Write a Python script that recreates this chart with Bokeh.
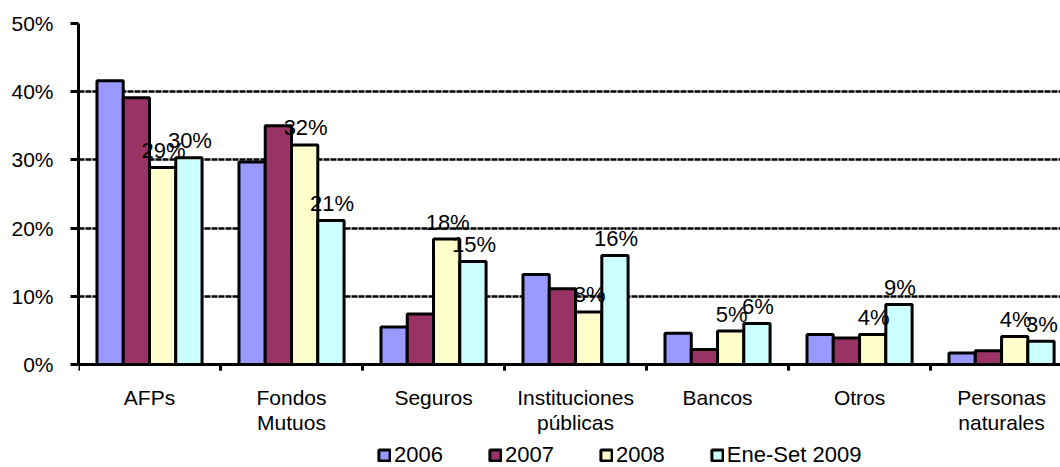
from bokeh.plotting import figure
from bokeh.models import ColumnDataSource, FixedTicker, Legend, LegendItem, Range1d
from bokeh.core.properties import value
from bokeh.embed import file_html
from bokeh.resources import INLINE

# Investor categories and share of holdings per period (%)
categories = ["AFPs", "Fondos\nMutuos", "Seguros", "Instituciones\npúblicas",
              "Bancos", "Otros", "Personas\nnaturales"]
series_names = ["2006", "2007", "2008", "Ene-Set 2009"]
share_2006 = [41.6, 29.7, 5.5, 13.2, 4.6, 4.4, 1.7]
share_2007 = [39.1, 35.0, 7.4, 11.1, 2.2, 3.9, 2.0]
share_2008 = [28.9, 32.2, 18.4, 7.7, 4.9, 4.4, 4.1]
share_2009 = [30.3, 21.1, 15.1, 16.0, 6.0, 8.8, 3.4]
y_ticks = [0, 10, 20, 30, 40, 50]
y_tick_labels = ["0%", "10%", "20%", "30%", "40%", "50%"]

colors = ["#9999FF", "#993366", "#FFFFCC", "#CCFFFF"]
FONT = "Liberation Sans"

all_series = [share_2006, share_2007, share_2008, share_2009]
labelled = [False, False, True, True]

n_cat = len(categories)
bar_w = 0.185
offsets = [(-1.5 + k) * bar_w for k in range(4)]
centers = [i + 0.5 for i in range(n_cat)]
boundaries = list(range(n_cat + 1))

# the frame runs down to the page bottom so that the category labels and
# the legend can sit under the zero line; the value scale itself is 0-50 %
p = figure(width=1060, height=467, output_backend="svg", toolbar_location=None,
           x_range=Range1d(0, 6.915), y_range=Range1d(-15.1, 50),
           x_axis_location=None,
           min_border_left=78, min_border_right=0, min_border_top=23,
           min_border_bottom=0)
p.background_fill_color = "white"
p.border_fill_color = "white"
p.outline_line_color = None

# dashed horizontal grid
p.ygrid.ticker = FixedTicker(ticks=y_ticks[1:])
p.ygrid.grid_line_color = "black"
p.ygrid.grid_line_width = 2.5
p.ygrid.grid_line_dash = "6 1"
p.xgrid.grid_line_color = None

renderers = []
label_sources = []
for k, vals in enumerate(all_series):
    xs = [c + offsets[k] for c in centers]
    src = ColumnDataSource(dict(x=xs, top=vals,
                                label=[f"{round(v)}%" for v in vals]))
    r = p.vbar(x="x", top="top", bottom=0, width=bar_w, source=src,
               fill_color=colors[k], line_color="black", line_width=3)
    renderers.append(r)
    if labelled[k]:
        label_sources.append(src)

# category axis: base line, tick marks between groups and group names
p.segment(x0=[0], y0=[0], x1=[n_cat], y1=[0], line_color="black", line_width=3)
p.segment(x0=boundaries, y0=[0] * len(boundaries), x1=boundaries,
          y1=[-0.9] * len(boundaries), line_color="black", line_width=3)
p.text(x=centers, y=[0] * n_cat, text=categories,
       text_font=value(FONT), text_font_size="21px", text_color="black",
       text_align="center", text_baseline="top", text_line_height=1.1,
       y_offset=21)

# value labels on the last two periods
for src in label_sources:
    p.text(x="x", y="top", text="label", source=src,
           text_font=value(FONT), text_font_size="22px", text_color="black",
           text_align="center", text_baseline="alphabetic",
           x_offset=1, y_offset=-17)

# percentage axis
p.yaxis.bounds = (0, 50)
p.yaxis.ticker = FixedTicker(ticks=y_ticks)
p.yaxis.major_label_overrides = {t: s for t, s in zip(y_ticks, y_tick_labels)}
p.yaxis.major_label_text_font = FONT
p.yaxis.major_label_text_font_size = "21px"
p.yaxis.major_label_text_color = "black"
p.yaxis.major_label_standoff = 17
p.yaxis.axis_line_width = 3
p.yaxis.axis_line_color = "black"
p.yaxis.major_tick_line_width = 3
p.yaxis.major_tick_line_color = "black"
p.yaxis.major_tick_out = 8
p.yaxis.major_tick_in = 0
p.yaxis.minor_tick_line_color = None

legend = Legend(items=[LegendItem(label=n, renderers=[r])
                       for n, r in zip(series_names, renderers)],
                orientation="horizontal", location=(299, -1),
                label_text_font=FONT, label_text_font_size="22px",
                label_text_color="black", glyph_width=14, glyph_height=14,
                label_standoff=3, spacing=45, padding=0, margin=0,
                border_line_color=None, background_fill_alpha=0)
p.add_layout(legend, "center")

open("out.html", "w").write(file_html(p, INLINE))
